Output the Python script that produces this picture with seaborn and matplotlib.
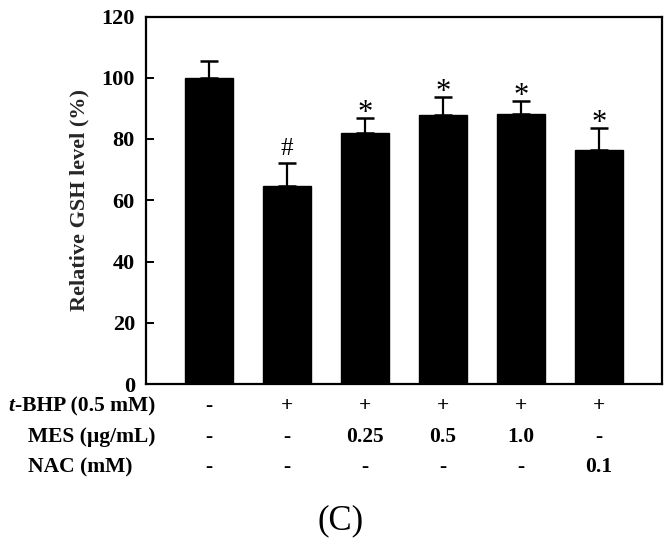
import numpy as np
import pandas as pd
import seaborn as sns
import matplotlib.pyplot as plt
from matplotlib.transforms import blended_transform_factory

groups = ["G1", "G2", "G3", "G4", "G5", "G6"]
means = [100.0, 64.5, 81.8, 87.9, 88.3, 76.5]
errs = [5.4, 7.6, 4.9, 5.7, 4.0, 7.0]
marks = ["", "#", "*", "*", "*", "*"]
row_labels = ["t-BHP (0.5 mM)", "MES (µg/mL)", "NAC (mM)"]
row_tbhp = ["-", "+", "+", "+", "+", "+"]
row_mes = ["-", "-", "0.25", "0.5", "1.0", "-"]
row_nac = ["-", "-", "-", "-", "-", "0.1"]
yticks = [0, 20, 40, 60, 80, 100, 120]

sns.set_theme(style="white")
plt.rcParams["font.family"] = ["Liberation Serif", "DejaVu Serif"]

W, H = 668, 542
fig = plt.figure(figsize=(W / 100, H / 100), dpi=100)
ax = fig.add_axes([146 / W, 1 - 384 / H, (662 - 146) / W, (384 - 16.5) / H])

df = pd.DataFrame({"group": groups, "mean": means})
sns.barplot(data=df, x="group", y="mean", color="black", edgecolor="black",
            width=0.615, saturation=1, errorbar=None, ax=ax)
xpos = np.arange(len(groups))
ax.errorbar(xpos, means, yerr=[np.zeros(len(errs)), errs], fmt="none",
            ecolor="black", elinewidth=1.6, capsize=6.5, capthick=1.8)

for x, m, e, s in zip(xpos, means, errs, marks):
    if not s:
        continue
    if s == "#":
        ax.text(x, m + e + 2.6, s, ha="center", va="baseline", fontsize=18, color="black")
    else:
        ax.text(x, m + e - 0.8, s, ha="center", va="baseline", fontsize=22, color="black")

ax.set_xlim(-0.81, 5.81)
ax.set_ylim(0, 120)
ax.set_yticks(yticks)
ax.set_yticklabels([str(t) for t in yticks], fontsize=16, fontweight="bold")
ax.set_xticks([])
ax.set_xlabel("")
ax.set_ylabel("Relative GSH level (%)", fontsize=16, fontweight="bold", labelpad=9)
ax.tick_params(axis="y", direction="in", length=6, width=1.4, left=True, pad=8, colors="black")
for sp in ax.spines.values():
    sp.set_visible(True)
    sp.set_color("black")
    sp.set_linewidth(1.6)

fs = 15.5
tr = blended_transform_factory(ax.transData, fig.transFigure)
row_y = [1 - 406 / H, 1 - 437 / H, 1 - 467 / H]
rows = [row_tbhp, row_mes, row_nac]
for ry, vals in zip(row_y, rows):
    for x, v in zip(xpos, vals):
        ax.text(x, ry, v, transform=tr, ha="center", va="center",
                fontsize=fs, fontweight="bold", color="black")

main = fig.text(155 / W, row_y[0], row_labels[0][1:], ha="right", va="center", fontsize=fs,
                fontweight="bold", color="black")
fig.canvas.draw()
bb = main.get_window_extent()
fig.text(bb.x0 / W, row_y[0], row_labels[0][0], ha="right", va="center", fontsize=fs,
         fontweight="bold", fontstyle="italic", color="black")
fig.text(28 / W, row_y[1], row_labels[1], ha="left", va="center", fontsize=fs,
         fontweight="bold", color="black")
fig.text(28 / W, row_y[2], row_labels[2], ha="left", va="center", fontsize=fs,
         fontweight="bold", color="black")

fig.text(341 / W, 1 - 521 / H, "(C)", ha="center", va="center", fontsize=25, color="black")

fig.savefig("out.png", dpi=100)
